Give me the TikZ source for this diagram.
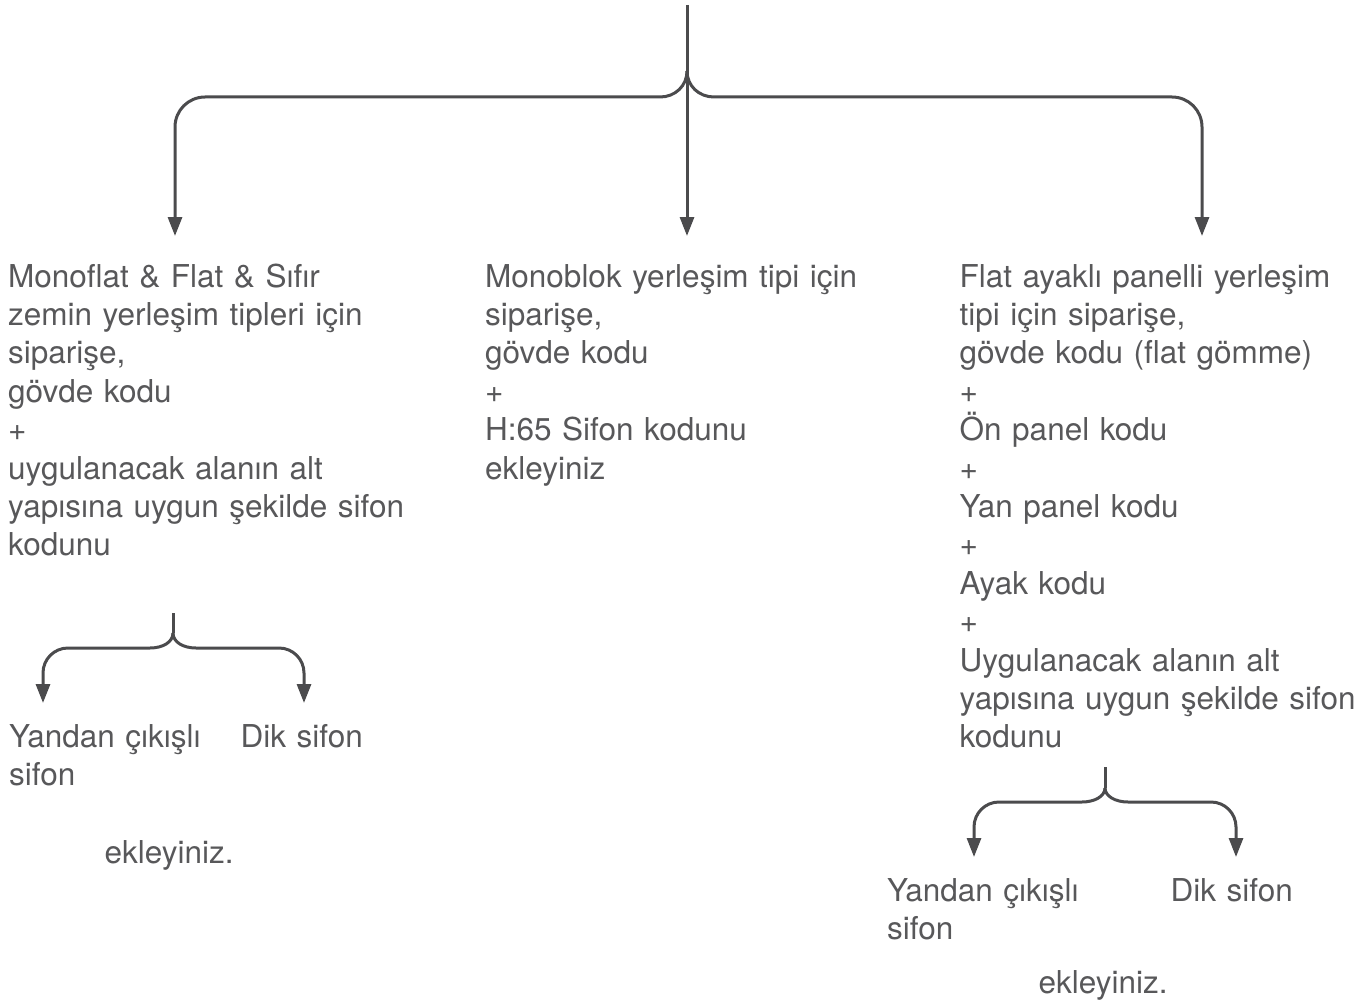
\documentclass[tikz,border=0pt]{standalone}
\usepackage{fontspec}
\setmainfont{TeX Gyre Heros}
\usetikzlibrary{arrows.meta}
\definecolor{linegray}{HTML}{4B4B4D}
\definecolor{textgray}{HTML}{58585A}
\tikzset{
  conn/.style={draw=linegray, line width=3pt, line cap=butt},
  arr/.style={conn, -{Triangle[length=19pt,width=14pt]}},
  txt/.style={text=textgray, inner sep=0pt, anchor=base west, align=left,
    text width=450pt, font=\fontsize{31.5}{38.4}\selectfont},
}
\begin{document}
\begin{tikzpicture}[x=1pt,y=-1pt]
\useasboundingbox (0,0) rectangle (1372,1006);
% main brace
\coordinate (top) at (687,5);
\coordinate (j) at (687,71);
\coordinate (e1) at (175,236);
\coordinate (e2) at (687,236);
\coordinate (e3) at (1202,236);
\draw[conn] (top) -- (j);
\draw[arr] (j) .. controls (687,86) and (675,97) .. (660,97) -- (205,97)
  .. controls (188.4,97) and (175,110.4) .. (175,127) -- (e1);
\draw[arr] (j) -- (e2);
\draw[arr] (j) .. controls (687,86) and (699,97) .. (714,97) -- (1172,97)
  .. controls (1188.6,97) and (1202,110.4) .. (1202,127) -- (e3);
% texts
\node[txt] (c1) at (8,287) {Monoflat \& Flat \& Sıfır\\zemin yerleşim tipleri için\\siparişe,\\gövde kodu\\+\\uygulanacak alanın alt\\yapısına uygun şekilde sifon\\kodunu};
\node[txt] (c2) at (485,287) {Monoblok yerleşim tipi için\\siparişe,\\gövde kodu\\+\\H:65 Sifon kodunu\\ekleyiniz};
\node[txt] (c3) at (959.5,287) {Flat ayaklı panelli yerleşim\\tipi için siparişe,\\gövde kodu (flat gömme)\\+\\Ön panel kodu\\+\\Yan panel kodu\\+\\Ayak kodu\\+\\Uygulanacak alanın alt\\yapısına uygun şekilde sifon\\kodunu};
% left small brace
\coordinate (lt) at (173,613);
\coordinate (lj) at (173,633);
\coordinate (l1) at (43,703);
\coordinate (l2) at (304,703);
\draw[conn] (lt) -- (lj);
\draw[arr] (lj) .. controls (173,642) and (163,648) .. (150,648) -- (68,648)
  .. controls (54.2,648) and (43,659.2) .. (43,673) -- (l1);
\draw[arr] (lj) .. controls (173,642) and (183,648) .. (196,648) -- (279,648)
  .. controls (292.8,648) and (304,659.2) .. (304,673) -- (l2);
\node[txt] (ly) at (9,747) {Yandan çıkışlı\\sifon};
\node[txt] (ld) at (240.5,747) {Dik sifon};
\node[txt] (le) at (104.5,863) {ekleyiniz.};
% right small brace
\coordinate (rt) at (1105,767);
\coordinate (rj) at (1105,788);
\coordinate (r1) at (974,857);
\coordinate (r2) at (1236,857);
\draw[conn] (rt) -- (rj);
\draw[arr] (rj) .. controls (1105,796) and (1095,802) .. (1082,802) -- (999,802)
  .. controls (985.2,802) and (974,813.2) .. (974,827) -- (r1);
\draw[arr] (rj) .. controls (1105,796) and (1115,802) .. (1128,802) -- (1211,802)
  .. controls (1224.8,802) and (1236,813.2) .. (1236,827) -- (r2);
\node[txt] (ry) at (887,901) {Yandan çıkışlı\\sifon};
\node[txt] (rd) at (1170.5,901) {Dik sifon};
\node[txt] (re) at (1038.5,993) {ekleyiniz.};
\end{tikzpicture}
\end{document}
